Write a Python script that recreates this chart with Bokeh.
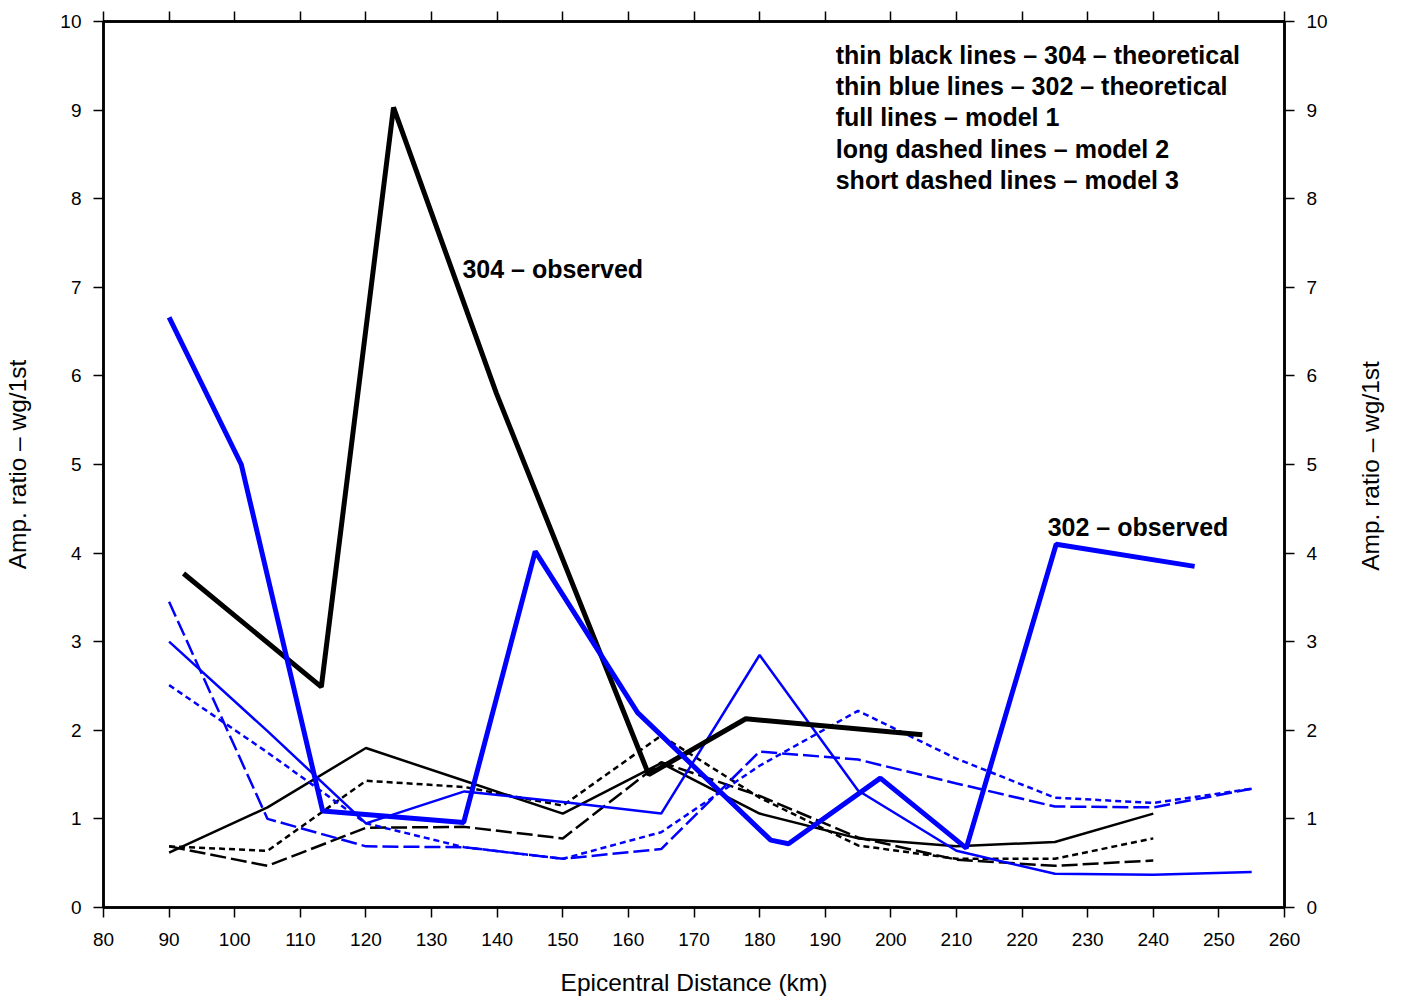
import math
from bokeh.plotting import figure
from bokeh.models import Range1d, LinearAxis, FixedTicker, Label
from bokeh.embed import file_html
from bokeh.resources import INLINE

# ---------------- data ----------------
# 304 observed (thick black)
obs304_x = [92.2, 113.2, 124.2, 139.9, 163.1, 177.9, 204.8]
obs304_y = [3.77, 2.49, 9.03, 5.80, 1.50, 2.13, 1.95]
# 302 observed (thick blue)
obs302_x = [90.0, 101.0, 113.4, 134.9, 145.8, 161.4, 181.7, 184.4, 198.4, 211.5, 225.2, 246.3]
obs302_y = [6.66, 5.00, 1.09, 0.96, 4.02, 2.20, 0.76, 0.72, 1.46, 0.67, 4.10, 3.85]

# 304 theoretical (thin black)
th304_x = [90, 105, 120, 135, 150, 165, 180, 195, 210, 225, 240]
th304_m1 = [0.62, 1.13, 1.80, 1.43, 1.06, 1.63, 1.06, 0.78, 0.69, 0.74, 1.06]
th304_m2 = [0.69, 0.47, 0.90, 0.91, 0.78, 1.64, 1.26, 0.79, 0.54, 0.47, 0.53]
th304_m3 = [0.69, 0.64, 1.43, 1.36, 1.15, 1.94, 1.24, 0.70, 0.55, 0.55, 0.78]

# 302 theoretical (thin blue)
th302_x = [90, 105, 120, 135, 150, 165, 180, 195, 210, 225, 240, 255]
th302_m1 = [3.00, 1.99, 0.95, 1.31, 1.19, 1.06, 2.85, 1.32, 0.64, 0.38, 0.37, 0.40]
th302_m2 = [3.45, 1.00, 0.69, 0.68, 0.55, 0.66, 1.76, 1.67, 1.40, 1.14, 1.13, 1.34]
th302_m3 = [2.51, 1.75, 0.95, 0.68, 0.55, 0.85, 1.60, 2.22, 1.68, 1.24, 1.18, 1.34]

x_ticks = list(range(80, 261, 10))
y_ticks = list(range(0, 11))

x_title = "Epicentral Distance (km)"
y_title = "Amp. ratio \u2013 wg/1st"

legend_lines = [
    "thin black lines \u2013 304 \u2013 theoretical",
    "thin blue lines \u2013 302 \u2013 theoretical",
    "full lines \u2013 model 1",
    "long dashed lines \u2013 model 2",
    "short dashed lines \u2013 model 3",
]

FONT = "Liberation Sans"
BLUE = "#0000ff"

p = figure(width=1401, height=998, output_backend="svg", toolbar_location=None,
           x_range=Range1d(80, 260), y_range=Range1d(0, 10),
           min_border_left=103, min_border_right=117, min_border_top=21, min_border_bottom=91,
           x_axis_location=None, y_axis_location=None)
p.xgrid.visible = False
p.ygrid.visible = False
p.outline_line_color = "black"
p.outline_line_width = 2.5
p.background_fill_color = "white"
p.border_fill_color = "white"


def style_axis(ax):
    ax.axis_line_color = "black"
    ax.axis_line_width = 2.5
    ax.major_tick_line_color = "black"
    ax.major_tick_line_width = 1.5
    ax.major_tick_out = 10
    ax.major_tick_in = 0
    ax.minor_tick_line_color = None
    ax.major_label_text_font = FONT
    ax.major_label_text_font_size = "19px"
    ax.major_label_text_color = "black"
    ax.major_label_standoff = 12
    ax.axis_label_text_font = FONT
    ax.axis_label_text_font_size = "24.5px"
    ax.axis_label_text_font_style = "normal"
    ax.axis_label_text_color = "black"


xb = LinearAxis(ticker=FixedTicker(ticks=x_ticks), axis_label=x_title)
style_axis(xb)
xb.major_label_standoff = 15
xb.axis_label_standoff = 20
p.add_layout(xb, "below")

xt = LinearAxis(ticker=FixedTicker(ticks=x_ticks))
style_axis(xt)
xt.major_label_overrides = {t: "" for t in x_ticks}
xt.major_label_standoff = 0
p.add_layout(xt, "above")

yl = LinearAxis(ticker=FixedTicker(ticks=y_ticks), axis_label=y_title)
style_axis(yl)
yl.axis_label_standoff = 26
p.add_layout(yl, "left")

yr = LinearAxis(ticker=FixedTicker(ticks=y_ticks))
style_axis(yr)
p.add_layout(yr, "right")

# right-hand title, reading bottom-to-top like the left one:
# drawn as the single rotated label of an extra, otherwise invisible axis
TITLE_START = 3.8
yr_title = LinearAxis(ticker=FixedTicker(ticks=[TITLE_START]))
style_axis(yr_title)
yr_title.axis_line_color = None
yr_title.major_tick_line_color = None
yr_title.major_tick_out = 0
yr_title.major_label_overrides = {TITLE_START: y_title}
yr_title.major_label_orientation = math.pi / 2
yr_title.major_label_text_font_size = "24.5px"
yr_title.major_label_standoff = 40
p.add_layout(yr_title, "right")

THIN = 2.5
THICK = 5
LONG = "16 5"
SHORT = "6 4"

# theoretical thin lines
p.line(th304_x, th304_m1, line_color="black", line_width=THIN)
p.line(th304_x, th304_m2, line_color="black", line_width=THIN, line_dash=LONG)
p.line(th304_x, th304_m3, line_color="black", line_width=THIN, line_dash=SHORT)
p.line(th302_x, th302_m1, line_color=BLUE, line_width=THIN)
p.line(th302_x, th302_m2, line_color=BLUE, line_width=THIN, line_dash=LONG)
p.line(th302_x, th302_m3, line_color=BLUE, line_width=THIN, line_dash=SHORT)

# observed thick lines
p.line(obs304_x, obs304_y, line_color="black", line_width=THICK)
p.line(obs302_x, obs302_y, line_color=BLUE, line_width=THICK)

# annotations
for txt, xx, yy in [("304 \u2013 observed", 134.7, 7.21), ("302 \u2013 observed", 223.9, 4.29)]:
    p.add_layout(Label(x=xx, y=yy, text=txt, text_font=FONT, text_color="black",
                       text_font_size="25px", text_font_style="bold", text_baseline="middle"))

leg_y = [9.62, 9.27, 8.92, 8.56, 8.21]
for t, yy in zip(legend_lines, leg_y):
    p.add_layout(Label(x=191.6, y=yy, text=t, text_font=FONT, text_font_size="25px",
                       text_color="black", text_font_style="bold", text_baseline="middle"))

open("out.html", "w").write(file_html(p, INLINE))
